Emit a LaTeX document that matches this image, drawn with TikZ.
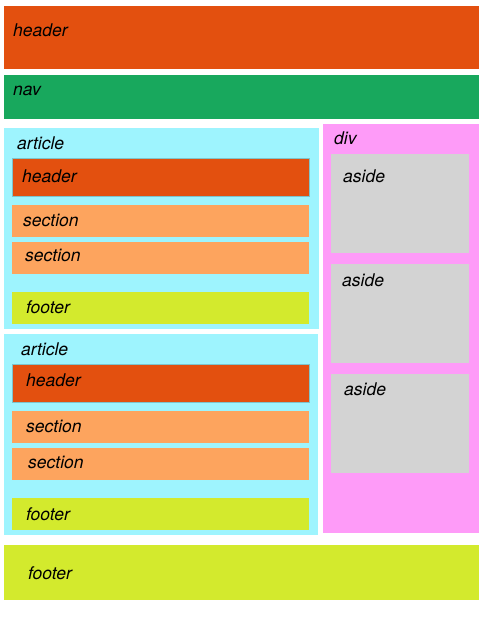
\documentclass[tikz,border=0pt]{standalone}
\usepackage{fontspec}
\setmainfont{TeX Gyre Heros}
\definecolor{hdrred}{HTML}{E3500F}
\definecolor{navgreen}{HTML}{18A85D}
\definecolor{artblue}{HTML}{9EF4FE}
\definecolor{secorange}{HTML}{FDA45E}
\definecolor{footlime}{HTML}{D3EA2D}
\definecolor{divpink}{HTML}{FE9BF8}
\definecolor{asidegray}{HTML}{D3D3D3}
\tikzset{
  lbl/.style={anchor=base west, inner sep=0pt, font=\fontsize{17.5}{20}\selectfont\itshape},
  edge/.style={draw=black!20!artblue, line width=0.6pt}
}
\begin{document}
\begin{tikzpicture}[x=1pt, y=-1pt]
    \useasboundingbox[fill=white] (0,0) rectangle (485,618);
    % page blocks
    \fill[hdrred] (4,6) rectangle (479,69);
    \fill[navgreen] (4,75) rectangle (479,119);
    \fill[footlime] (4,545) rectangle (479,600);
    % first article
    \fill[artblue] (4,128) rectangle (319,329);
    \filldraw[fill=hdrred, edge] (12,158) rectangle (309,196);
    \fill[secorange] (12,205) rectangle (309,237);
    \fill[secorange] (12,242) rectangle (309,274);
    \fill[footlime] (12,292) rectangle (309,324);
    % second article
    \fill[artblue] (4,334) rectangle (318,535);
    \filldraw[fill=hdrred, edge] (12,364) rectangle (309,402);
    \fill[secorange] (12,411) rectangle (309,443);
    \fill[secorange] (12,448) rectangle (309,480);
    \fill[footlime] (12,498) rectangle (309,530);
    % div with asides
    \fill[divpink] (323,124) rectangle (479,533);
    \fill[asidegray] (331,154) rectangle (469,253);
    \fill[asidegray] (331,264) rectangle (469,363);
    \fill[asidegray] (331,374) rectangle (469,473);
    % labels
    \node[lbl] (header) at (13,37) {header};
    \node[lbl] (nav) at (13,95) {nav};
    \node[lbl] (articleA) at (17,149) {article};
    \node[lbl] (headerA) at (22,182) {header};
    \node[lbl] (sectionA) at (23,226) {section};
    \node[lbl] (sectionB) at (25,261) {section};
    \node[lbl] (footerA) at (26,313) {footer};
    \node[lbl] (articleB) at (21,355) {article};
    \node[lbl] (headerB) at (26,386) {header};
    \node[lbl] (sectionC) at (26,432) {section};
    \node[lbl] (sectionD) at (28,468) {section};
    \node[lbl] (footerB) at (26,520) {footer};
    \node[lbl] (div) at (334,144) {div};
    \node[lbl] (asideA) at (343,182) {aside};
    \node[lbl] (asideB) at (342,286) {aside};
    \node[lbl] (asideC) at (344,395) {aside};
    \node[lbl] (footer) at (28,579) {footer};
\end{tikzpicture}
\end{document}
